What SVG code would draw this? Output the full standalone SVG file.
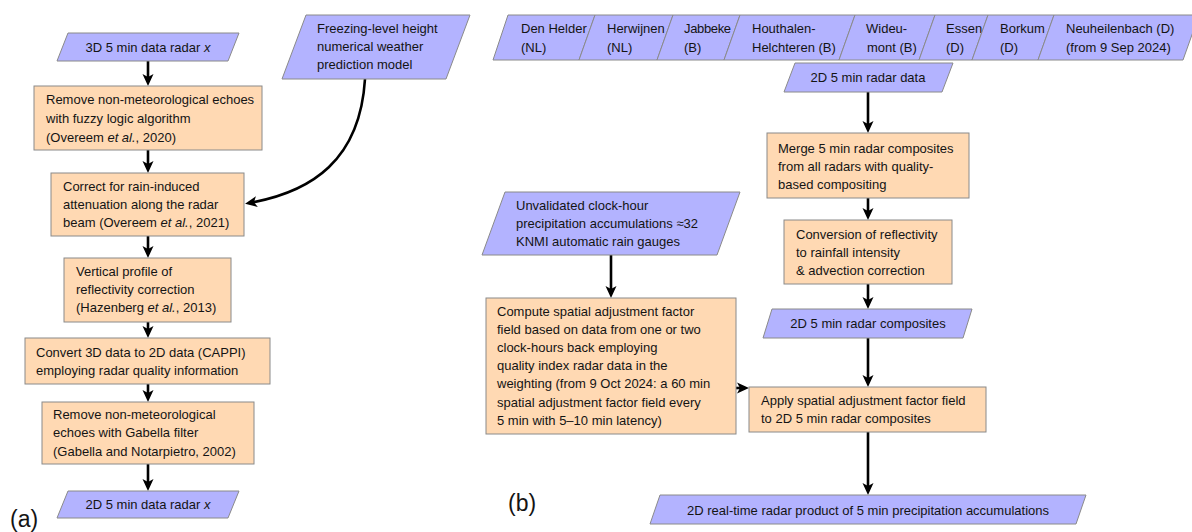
<svg xmlns="http://www.w3.org/2000/svg" width="1192" height="532" viewBox="0 0 1192 532">
<style>
.io{fill:#b3b3ff;stroke:#8a8a8a;stroke-width:1}
.pr{fill:#ffd9b3;stroke:#8a8a8a;stroke-width:1}
text{font-family:"Liberation Sans",Arial,sans-serif;font-size:13px;fill:#141414}
.c{text-anchor:middle}
.i{font-style:italic}
.lab{font-size:23px}
.conn path{fill:none;stroke:#000;stroke-width:2.6}
</style>
<defs>
<marker id="ah" markerUnits="userSpaceOnUse" markerWidth="18" markerHeight="16" viewBox="-9 -8 18 16" refX="0" refY="0" orient="auto">
<path d="M4,0 L-8,-5.5 L-5,0 L-8,5.5 Z" fill="#000"/>
</marker>
</defs>

<g class="conn">
<path d="M148,61 V82" marker-end="url(#ah)"/>
<path d="M148,150 V169" marker-end="url(#ah)"/>
<path d="M148,236 V254" marker-end="url(#ah)"/>
<path d="M148,322 V334" marker-end="url(#ah)"/>
<path d="M148,384 V398" marker-end="url(#ah)"/>
<path d="M148,464 V487" marker-end="url(#ah)"/>
<path d="M365,79 C360,160 312,192 249,203" marker-end="url(#ah)"/>
<path d="M868,92 V129" marker-end="url(#ah)"/>
<path d="M868,198 V216" marker-end="url(#ah)"/>
<path d="M868,284 V305" marker-end="url(#ah)"/>
<path d="M868,338 V383" marker-end="url(#ah)"/>
<path d="M868,432 V491" marker-end="url(#ah)"/>
<path d="M611,255 V294" marker-end="url(#ah)"/>
<path d="M736,388 H745" marker-end="url(#ah)"/>
</g>

<g id="a-in">
<polygon class="io" points="68,33 239,33 228,61 57,61"/>
<text class="c" x="148" y="51.5">3D 5 min data radar <tspan class="i">x</tspan></text>
</g>
<g id="a-fuzzy">
<rect class="pr" x="34" y="86" width="228" height="64"/>
<text x="46" y="103.5">Remove non-meteorological echoes</text>
<text x="46" y="122.5">with fuzzy logic algorithm</text>
<text x="46" y="141.5">(Overeem <tspan class="i">et al.</tspan>, 2020)</text>
</g>
<g id="a-freezing">
<polygon class="io" points="306,15 470,15 446,79 282,79"/>
<text x="317" y="32.5">Freezing-level height</text>
<text x="317" y="50.5">numerical weather</text>
<text x="317" y="68.5">prediction model</text>
</g>
<g id="a-atten">
<rect class="pr" x="51" y="173" width="193" height="63"/>
<text x="63" y="190.5">Correct for rain-induced</text>
<text x="63" y="208.5">attenuation along the radar</text>
<text x="63" y="226.5">beam (Overeem <tspan class="i">et al.</tspan>, 2021)</text>
</g>
<g id="a-vpr">
<rect class="pr" x="64" y="258" width="167" height="64"/>
<text x="76" y="275.5">Vertical profile of</text>
<text x="76" y="293.5">reflectivity correction</text>
<text x="76" y="311.5">(Hazenberg <tspan class="i">et al.</tspan>, 2013)</text>
</g>
<g id="a-cappi">
<rect class="pr" x="25" y="338" width="245" height="46"/>
<text x="36" y="356.5">Convert 3D data to 2D data (CAPPI)</text>
<text x="36" y="374.5">employing radar quality information</text>
</g>
<g id="a-gabella">
<rect class="pr" x="42" y="402" width="212" height="62"/>
<text x="53" y="418.5">Remove non-meteorological</text>
<text x="53" y="436.5">echoes with Gabella filter</text>
<text x="53" y="455.5">(Gabella and Notarpietro, 2002)</text>
</g>
<g id="a-out">
<polygon class="io" points="68,491 239,491 228,518 57,518"/>
<text class="c" x="148" y="508.5">2D 5 min data radar <tspan class="i">x</tspan></text>
</g>
<text class="lab" x="10" y="527">(a)</text>

<g id="r-denhelder">
<polygon class="io" points="508,15 595,15 579,60 493,60"/>
<text x="521" y="32.5">Den Helder</text>
<text x="521" y="51.5">(NL)</text>
</g>
<g id="r-herwijnen">
<polygon class="io" points="595,15 673,15 657,60 579,60"/>
<text x="607" y="32.5">Herwijnen</text>
<text x="607" y="51.5">(NL)</text>
</g>
<g id="r-jabbeke">
<polygon class="io" points="673,15 740,15 724,60 657,60"/>
<text x="684" y="32.5" textLength="47">Jabbeke</text>
<text x="684" y="51.5">(B)</text>
</g>
<g id="r-houthalen">
<polygon class="io" points="740,15 855,15 839,60 724,60"/>
<text x="752" y="32.5">Houthalen-</text>
<text x="752" y="51.5">Helchteren (B)</text>
</g>
<g id="r-wideumont">
<polygon class="io" points="855,15 935,15 919,60 839,60"/>
<text x="866" y="32.5">Wideu-</text>
<text x="867" y="51.5">mont (B)</text>
</g>
<g id="r-essen">
<polygon class="io" points="935,15 988,15 972,60 919,60"/>
<text x="946" y="32.5">Essen</text>
<text x="946" y="51.5">(D)</text>
</g>
<g id="r-borkum">
<polygon class="io" points="988,15 1054,15 1038,60 972,60"/>
<text x="1000" y="32.5">Borkum</text>
<text x="1000" y="51.5">(D)</text>
</g>
<g id="r-neuheilenbach">
<polygon class="io" points="1054,15 1199,15 1183,60 1038,60"/>
<text x="1066" y="32.5">Neuheilenbach (D)</text>
<text x="1066" y="51.5">(from 9 Sep 2024)</text>
</g>

<g id="b-radardata">
<polygon class="io" points="795,63 953,63 942,92 784,92"/>
<text class="c" x="868" y="82">2D 5 min radar data</text>
</g>
<g id="b-merge">
<rect class="pr" x="767" y="133" width="202" height="65"/>
<text x="778" y="152.5">Merge 5 min radar composites</text>
<text x="778" y="170.5">from all radars with quality-</text>
<text x="778" y="188.5">based compositing</text>
</g>
<g id="b-conversion">
<rect class="pr" x="784" y="220" width="168" height="64"/>
<text x="796" y="238.5">Conversion of reflectivity</text>
<text x="796" y="256.5">to rainfall intensity</text>
<text x="796" y="274.5">&amp; advection correction</text>
</g>
<g id="b-composites">
<polygon class="io" points="772,309 972,309 963,338 763,338"/>
<text class="c" x="868" y="327.5">2D 5 min radar composites</text>
</g>
<g id="b-gauges">
<polygon class="io" points="505,192 740,192 717,255 482,255"/>
<text x="516" y="209.5">Unvalidated clock-hour</text>
<text x="516" y="227.5">precipitation accumulations ≈32</text>
<text x="516" y="245.5">KNMI automatic rain gauges</text>
</g>
<g id="b-compute">
<rect class="pr" x="486" y="298" width="250" height="136"/>
<text x="497" y="315.5">Compute spatial adjustment factor</text>
<text x="497" y="333.5">field based on data from one or two</text>
<text x="497" y="351.5">clock-hours back employing</text>
<text x="497" y="370">quality index radar data in the</text>
<text x="497" y="388">weighting (from 9 Oct 2024: a 60 min</text>
<text x="497" y="406.5">spatial adjustment factor field every</text>
<text x="497" y="424.5">5 min with 5–10 min latency)</text>
</g>
<g id="b-apply">
<rect class="pr" x="749" y="387" width="237" height="45"/>
<text x="761" y="404.5">Apply spatial adjustment factor field</text>
<text x="761" y="422.5">to 2D 5 min radar composites</text>
</g>
<g id="b-product">
<polygon class="io" points="660,495 1086,495 1076,524 650,524"/>
<text class="c" x="868" y="514.5">2D real-time radar product of 5 min precipitation accumulations</text>
</g>
<text class="lab" x="508" y="511">(b)</text>
</svg>
